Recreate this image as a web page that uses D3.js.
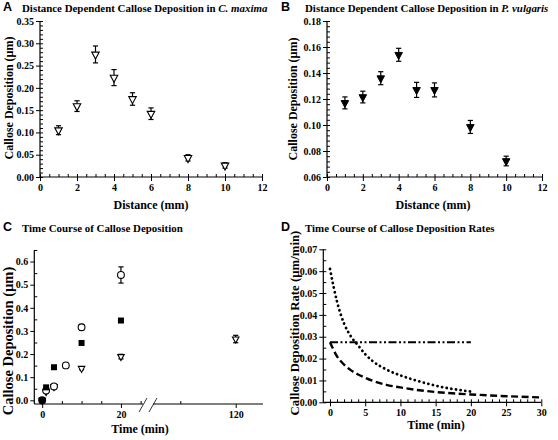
<!DOCTYPE html>
<html><head><meta charset="utf-8">
<script src="https://cdn.jsdelivr.net/npm/d3@7"></script>
<style>
body{margin:0;background:#fff}
svg{display:block}
</style></head><body>
<script>
// ---- Panel A data ----
const distA = [1,2,3,4,5,6,8,10];
const depA = [0.105,0.159,0.275,0.223,0.175,0.142,0.043,0.026];
const errA = [0.010,0.012,0.019,0.018,0.014,0.013,0.007,0.006];
// ---- Panel B data ----
const distB = [1,2,3,4,5,6,8,10];
const depB = [0.117,0.1215,0.136,0.154,0.127,0.127,0.0985,0.0723];
const errB = [0.0046,0.0045,0.005,0.005,0.0058,0.0054,0.005,0.0037];
// ---- Panel C data ----
const circT = [0,1,3,6,10,20];
const circV = [0,0.042,0.06,0.151,0.316,0.542];
const circE = [0,0.004,0.004,0.006,0.012,0.035];
const sqT = [0,1,3,10,20];
const sqV = [0,0.056,0.143,0.248,0.345];
const triT = [0,1,3,10,20,120];
const triV = [0,0.038,0.059,0.138,0.189,0.265];
const triE = [0,0.004,0.005,0.006,0.010,0.016];
const cTickLabels = [0,20,120];
// ---- Panel D data ----
const dotT = [0,0.5,1,2,3,4,5,6,8,10,12,14,16,18,20];
const dotV = [0.061,0.053,0.046,0.036,0.030,0.026,0.022,0.019,0.015,0.0123,0.0102,0.0084,0.0069,0.0058,0.0049];
const dashT = [0,1,2,3,4,5,6,8,10,12,15,20,25,30];
const dashV = [0.0275,0.021,0.0172,0.0146,0.0127,0.0112,0.0099,0.008,0.0068,0.0058,0.0047,0.0036,0.0028,0.0022];
const constT = [0,20];
const constV = [0.0275,0.0275];

const SERIF = "'Liberation Serif','Times New Roman','DejaVu Serif',serif";
const SANS = "'Liberation Sans',Arial,sans-serif";

const svg = d3.select("body").append("svg").attr("width",558).attr("height",440);
svg.append("rect").attr("width",558).attr("height",440).attr("fill","#fff");

function range(a,b,s){const r=[];for(let v=a;v<=b+1e-9;v+=s)r.push(+v.toFixed(6));return r;}
function styleTicks(a){
  a.select(".domain").remove();
  a.selectAll("line").attr("stroke","#000");
  a.selectAll("text").style("font-family",SERIF).style("font-weight","bold").style("font-size","10px").attr("fill","#000");
}
function yAxes(g,y,x0,majors,minors,fmt){
  const m=g.append("g").attr("transform",`translate(${x0},0)`)
    .call(d3.axisLeft(y).tickValues(minors).tickSize(-3).tickFormat(""));
  styleTicks(m);
  const a=g.append("g").attr("transform",`translate(${x0},0)`)
    .call(d3.axisLeft(y).tickValues(majors).tickSize(4).tickFormat(fmt));
  styleTicks(a); a.selectAll("text").attr("x",-6);
  g.append("line").attr("x1",x0).attr("x2",x0).attr("y1",y.range()[0]).attr("y2",y.range()[1]).attr("stroke","#000").attr("stroke-width",1.2);
}
function xAxes(g,x,y0,majors,minors,fmt,x1,x2){
  styleTicks(g.append("g").attr("transform",`translate(0,${y0})`)
    .call(d3.axisBottom(x).tickValues(minors).tickSize(-3).tickFormat("")));
  const a=g.append("g").attr("transform",`translate(0,${y0})`)
    .call(d3.axisBottom(x).tickValues(majors).tickSize(4).tickFormat(fmt));
  styleTicks(a); a.selectAll("text").attr("y",7);
  g.append("line").attr("x1",x1).attr("x2",x2).attr("y1",y0).attr("y2",y0).attr("stroke","#000").attr("stroke-width",1.2);
}
function triPath(w,h){return `M${-w/2},${-h/3}L${w/2},${-h/3}L0,${2*h/3}Z`;}
function errBars(g,xs,ys,es,x,y,cap){
  xs.forEach((d,i)=>{
    if(!es[i])return;
    const cx=x(d),t=y(ys[i]+es[i]),b=y(ys[i]-es[i]);
    g.append("line").attr("x1",cx).attr("x2",cx).attr("y1",t).attr("y2",b).attr("stroke","#000").attr("stroke-width",1.2);
    g.append("line").attr("x1",cx-cap).attr("x2",cx+cap).attr("y1",t).attr("y2",t).attr("stroke","#000").attr("stroke-width",1.2);
    g.append("line").attr("x1",cx-cap).attr("x2",cx+cap).attr("y1",b).attr("y2",b).attr("stroke","#000").attr("stroke-width",1.2);
  });
}
function stxt(sel,size){return sel.style("font-family",SERIF).style("font-weight","bold").style("font-size",size).attr("fill","#000");}
function title(lx,ly,letter,tx,parts){
  svg.append("text").attr("x",lx).attr("y",ly).style("font-family",SANS).style("font-weight","bold").style("font-size","12.5px").text(letter);
  const t=stxt(svg.append("text").attr("x",tx).attr("y",ly+1),"10.9px");
  parts.forEach(p=>t.append("tspan").style("font-style",p[1]?"italic":"normal").text(p[0]));
}
function yTitle(x,cy,txt,size){
  stxt(svg.append("text").attr("transform",`translate(${x},${cy}) rotate(-90)`).attr("text-anchor","middle"),size).text(txt);
}
function xTitle(cx,y,txt,size){
  stxt(svg.append("text").attr("x",cx).attr("y",y).attr("text-anchor","middle"),size).text(txt);
}

// ===== Panel A =====
{
  const g=svg.append("g");
  const x=d3.scaleLinear().domain([0,12]).range([40,262]);
  const y=d3.scaleLinear().domain([0,0.35]).range([177,21]);
  yAxes(g,y,40,range(0,0.35,0.05),range(0,0.35,0.01),d3.format(".2f"));
  xAxes(g,x,177,range(0,12,2),range(0,12,0.5),d3.format("d"),40,262);
  errBars(g,distA,depA,errA,x,y,2.6);
  distA.forEach((d,i)=>g.append("path").attr("d",triPath(7.5,7)).attr("transform",`translate(${x(d)},${y(depA[i])})`).attr("fill","#fff").attr("stroke","#000").attr("stroke-width",1.1));
  title(3,11,"A",22,[["Distance Dependent Callose Deposition in ",0],["C. maxima",1]]);
  yTitle(13,98,"Callose Deposition (µm)","12px");
  xTitle(151,209,"Distance (mm)","12px");
}
// ===== Panel B =====
{
  const g=svg.append("g");
  const x=d3.scaleLinear().domain([0,12]).range([327,542]);
  const y=d3.scaleLinear().domain([0.06,0.18]).range([177,21]);
  yAxes(g,y,327,range(0.06,0.18,0.02),range(0.06,0.18,0.004),d3.format(".2f"));
  xAxes(g,x,177,range(0,12,2),range(0,12,0.5),d3.format("d"),327,542);
  errBars(g,distB,depB,errB,x,y,2.6);
  distB.forEach((d,i)=>g.append("path").attr("d",triPath(7.5,7)).attr("transform",`translate(${x(d)},${y(depB[i])})`).attr("fill","#000").attr("stroke","#000").attr("stroke-width",1));
  title(281,11,"B",305,[["Distance Dependent Callose Deposition in ",0],["P. vulgaris",1]]);
  yTitle(297,99,"Callose Deposition (µm)","12px");
  xTitle(433,209,"Distance (mm)","12px");
}
// ===== Panel C =====
{
  const g=svg.append("g");
  const x1=d3.scaleLinear().domain([-2,25.6]).range([34.3,143]);
  const x2=d3.scaleLinear().domain([60,120]).range([180.3,235.7]);
  const xs=t=>t<=30?x1(t):x2(t);
  const y=d3.scaleLinear().domain([-0.016,0.65]).range([404,250]);
  styleTicks(g.append("g").attr("transform","translate(34.3,0)")
    .call(d3.axisLeft(y).tickValues(range(0.05,0.65,0.1)).tickSize(-3).tickFormat("")));
  const ya=g.append("g").attr("transform","translate(34.3,0)")
    .call(d3.axisLeft(y).tickValues(range(0,0.6,0.1)).tickSize(4).tickFormat(d3.format(".1f")));
  styleTicks(ya); ya.selectAll("text").attr("x",-6);
  g.append("line").attr("x1",34.3).attr("x2",34.3).attr("y1",404).attr("y2",250).attr("stroke","#000").attr("stroke-width",1.2);
  const y0=404;
  g.append("line").attr("x1",34.3).attr("x2",143).attr("y1",y0).attr("y2",y0).attr("stroke","#000").attr("stroke-width",1.2);
  g.append("line").attr("x1",153).attr("x2",263).attr("y1",y0).attr("y2",y0).attr("stroke","#000").attr("stroke-width",1.2);
  g.append("line").attr("x1",139).attr("x2",147).attr("y1",412).attr("y2",398).attr("stroke","#000").attr("stroke-width",0.8);
  g.append("line").attr("x1",149).attr("x2",157).attr("y1",412).attr("y2",398).attr("stroke","#000").attr("stroke-width",0.8);
  styleTicks(g.append("g").attr("transform",`translate(0,${y0})`)
    .call(d3.axisBottom(x1).tickValues([5,10,15,25]).tickSize(-3).tickFormat("")));
  styleTicks(g.append("g").attr("transform",`translate(0,${y0})`)
    .call(d3.axisBottom(x2).tickValues([60]).tickSize(-3).tickFormat("")));
  const xa1=g.append("g").attr("transform",`translate(0,${y0})`)
    .call(d3.axisBottom(x1).tickValues(cTickLabels.filter(d=>d<=30)).tickSize(4).tickFormat(d3.format("d")));
  styleTicks(xa1); xa1.selectAll("text").attr("y",7);
  const xa2=g.append("g").attr("transform",`translate(0,${y0})`)
    .call(d3.axisBottom(x2).tickValues(cTickLabels.filter(d=>d>30)).tickSize(4).tickFormat(d3.format("d")));
  styleTicks(xa2); xa2.selectAll("text").attr("y",7);
  errBars(g,circT,circV,circE,xs,y,2.6);
  errBars(g,triT,triV,triE,xs,y,2.6);
  triT.forEach((d,i)=>g.append("path").attr("d",triPath(6.5,6)).attr("transform",`translate(${xs(d)},${y(triV[i])})`).attr("fill","#fff").attr("stroke","#000").attr("stroke-width",1.1));
  circT.forEach((d,i)=>g.append("circle").attr("cx",xs(d)).attr("cy",y(circV[i])).attr("r",3.4).attr("fill",d===0?"#000":"#fff").attr("stroke","#000").attr("stroke-width",1.1));
  sqT.forEach((d,i)=>g.append("rect").attr("x",xs(d)-3).attr("y",y(sqV[i])-3).attr("width",6).attr("height",6).attr("fill","#000"));
  title(3,231,"C",22,[["Time Course of Callose Deposition",0]]);
  yTitle(13,341,"Callose Deposition (µm)","14.5px");
  xTitle(140,433,"Time (min)","12px");
}
// ===== Panel D =====
{
  const g=svg.append("g");
  const x=d3.scaleLinear().domain([0,30]).range([330,541.3]);
  const y=d3.scaleLinear().domain([0,0.07]).range([402.3,249.3]);
  yAxes(g,y,323.3,range(0,0.07,0.01),range(0,0.07,0.005),d3.format(".2f"));
  xAxes(g,x,402.3,range(0,30,5),range(0,30,1),d3.format("d"),323.3,541.3);
  const line=d3.line().curve(d3.curveMonotoneX);
  g.append("path").attr("d",line(dotT.map((t,i)=>[x(t),y(dotV[i])]))).attr("fill","none").attr("stroke","#000")
    .attr("stroke-width",2.8).attr("stroke-linecap","round").attr("stroke-dasharray","0.1,4.6");
  g.append("path").attr("d",line(dashT.map((t,i)=>[x(t),y(dashV[i])]))).attr("fill","none").attr("stroke","#000")
    .attr("stroke-width",2.4).attr("stroke-dasharray","7,3.5");
  g.append("path").attr("d",line(constT.map((t,i)=>[x(t),y(constV[i])]))).attr("fill","none").attr("stroke","#000")
    .attr("stroke-width",2).attr("stroke-dasharray","8,2.5,2,2.5,2,2.5");
  title(281,231,"D",305,[["Time Course of Callose Deposition Rates",0]]);
  yTitle(299,323,"Callose Deposition Rate (µm/min)","12.8px");
  xTitle(436,429,"Time (min)","12px");
}
</script>
</body></html>
